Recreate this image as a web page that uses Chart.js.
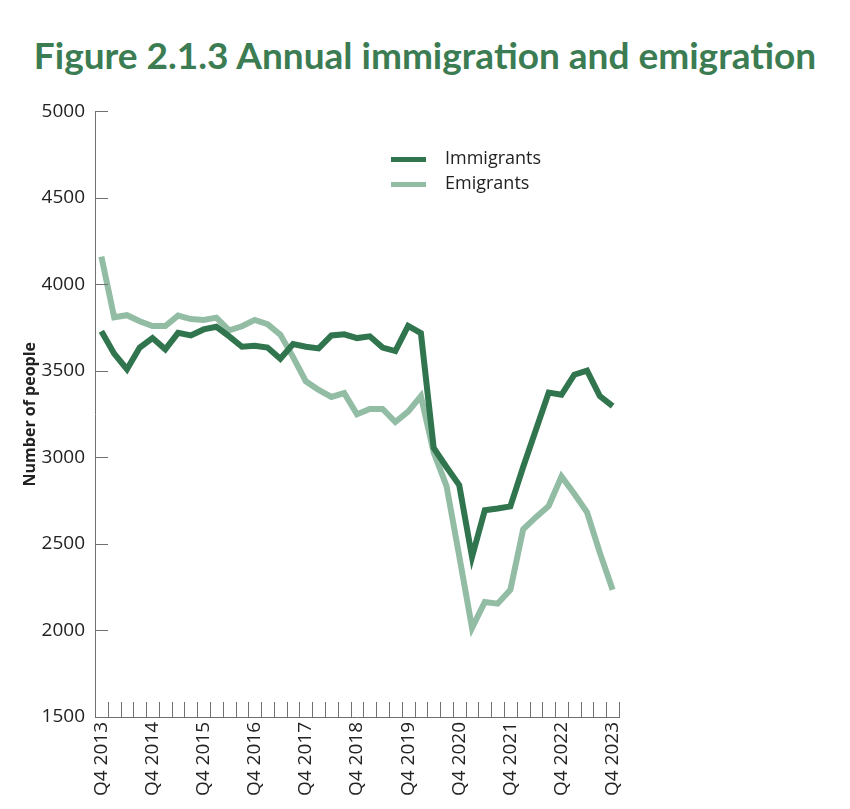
<!DOCTYPE html>
<html lang="en">
<head>
    <meta charset="UTF-8">
    <title>Figure 2.1.3</title>
    <style type="text/css">
        body { margin: 0; background: #fff; }
        .title {
            height: 90px;
            box-sizing: border-box;
            padding-top: 34px;
            text-align: center;
            font-family: Lato, "Open Sans", sans-serif;
            font-weight: bold;
            font-size: 37px;
            line-height: 42px;
            color: #3b7c53;
        }
        .chartBox {
            width: 850px;
            height: 719px;
        }
    </style>
</head>
<body>
    <div class="title">Figure 2.1.3 Annual immigration and emigration</div>
    <div class="chartBox">
        <canvas id="myChart"></canvas>
    </div>

    <script src="https://cdn.jsdelivr.net/npm/chart.js"></script>

    <script>
        const quarters = [
          'Q4 2013',
          'Q1 2014', 'Q2 2014', 'Q3 2014', 'Q4 2014',
          'Q1 2015', 'Q2 2015', 'Q3 2015', 'Q4 2015',
          'Q1 2016', 'Q2 2016', 'Q3 2016', 'Q4 2016',
          'Q1 2017', 'Q2 2017', 'Q3 2017', 'Q4 2017',
          'Q1 2018', 'Q2 2018', 'Q3 2018', 'Q4 2018',
          'Q1 2019', 'Q2 2019', 'Q3 2019', 'Q4 2019',
          'Q1 2020', 'Q2 2020', 'Q3 2020', 'Q4 2020',
          'Q1 2021', 'Q2 2021', 'Q3 2021', 'Q4 2021',
          'Q1 2022', 'Q2 2022', 'Q3 2022', 'Q4 2022',
          'Q1 2023', 'Q2 2023', 'Q3 2023', 'Q4 2023'
        ];

        const immigrants = [
          3730, 3600, 3510, 3635, 3690, 3625, 3720, 3705, 3740, 3755,
          3700, 3640, 3645, 3635, 3570, 3655, 3640, 3630, 3705, 3712,
          3690, 3700, 3635, 3615, 3760, 3718, 3055, 2945, 2840, 2425,
          2695, 2705, 2717, 2945, 3160, 3375, 3362, 3478, 3502, 3355,
          3297
        ];

        const emigrants = [
          4160, 3810, 3822, 3787, 3760, 3760, 3820, 3800, 3795, 3808,
          3735, 3758, 3795, 3770, 3710, 3580, 3440, 3390, 3350, 3372,
          3250, 3280, 3280, 3205, 3265, 3355, 3030, 2836, 2430, 2015,
          2165, 2155, 2235, 2585, 2655, 2720, 2890, 2790, 2683, 2450,
          2236
        ];

        const darkGreen = '#31754e';
        const lightGreen = '#92bda4';
        const axisGrey = '#707070';
        const textCol = '#222222';

        // short inward tick marks on both axes
        const tickMarks = {
          id: 'tickMarks',
          afterDraw(chart) {
            const {ctx, chartArea, scales: {x, y}} = chart;
            ctx.save();
            ctx.strokeStyle = axisGrey;
            ctx.lineWidth = 1;
            ctx.beginPath();
            y.ticks.forEach(t => {
              const py = Math.round(y.getPixelForValue(t.value)) + 0.5;
              ctx.moveTo(chartArea.left, py);
              ctx.lineTo(chartArea.left + 13, py);
            });
            for (let i = 0; i <= quarters.length; i++) {
              const px = Math.round(x.getPixelForValue(i - 0.5)) + 0.5;
              ctx.moveTo(px, chartArea.bottom);
              ctx.lineTo(px, chartArea.bottom - 15);
            }
            ctx.stroke();
            ctx.restore();
          }
        };

        // stacked legend inside the plot
        const innerLegend = {
          id: 'innerLegend',
          afterDraw(chart) {
            const {ctx, chartArea} = chart;
            ctx.save();
            ctx.font = '18px "Open Sans"';
            ctx.textBaseline = 'middle';
            chart.data.datasets.forEach((ds, i) => {
              const ly = chartArea.top + 48 + i * 25;
              ctx.strokeStyle = ds.borderColor;
              ctx.lineWidth = 5;
              ctx.beginPath();
              ctx.moveTo(chartArea.left + 296, ly);
              ctx.lineTo(chartArea.left + 331, ly);
              ctx.stroke();
              ctx.fillStyle = textCol;
              ctx.fillText(ds.label, chartArea.left + 350, ly - 1);
            });
            ctx.restore();
          }
        };

        const ctx = document.getElementById('myChart');
        new Chart(ctx, {
          type: 'line',
          data: {
            labels: quarters,
            datasets: [{
              label: 'Immigrants',
              data: immigrants,
              borderColor: darkGreen,
              borderWidth: 6,
              borderJoinStyle: 'miter',
              pointRadius: 0,
              tension: 0
            }, {
              label: 'Emigrants',
              data: emigrants,
              borderColor: lightGreen,
              borderWidth: 6,
              borderJoinStyle: 'miter',
              pointRadius: 0,
              tension: 0
            }]
          },
          options: {
            responsive: true,
            maintainAspectRatio: false,
            animation: false,
            layout: {
              padding: {top: 19, right: 231, bottom: 0, left: 0}
            },
            plugins: {
              legend: {display: false},
              tooltip: {enabled: false}
            },
            scales: {
              x: {
                type: 'category',
                offset: true,
                grid: {display: false, drawTicks: false},
                border: {display: true, color: axisGrey, width: 1},
                afterFit(scale) { scale.height = 92; },
                ticks: {
                  autoSkip: false,
                  maxRotation: 90,
                  minRotation: 90,
                  padding: 5,
                  color: textCol,
                  font: {family: 'Open Sans', size: 19},
                  callback(val, i) {
                    return quarters[i].startsWith('Q4') ? quarters[i] : '';
                  }
                }
              },
              y: {
                min: 1500,
                max: 5000,
                grid: {display: false, drawTicks: false},
                border: {display: true, color: axisGrey, width: 1},
                afterFit(scale) { scale.width = 95; },
                ticks: {
                  stepSize: 500,
                  padding: 10,
                  color: textCol,
                  font: {family: 'Open Sans', size: 19},
                  callback: v => String(v)
                },
                title: {
                  display: true,
                  text: 'Number of people',
                  color: textCol,
                  padding: {top: 21, bottom: 0},
                  font: {family: 'Open Sans', size: 16, weight: 'bold'}
                }
              }
            }
          },
          plugins: [tickMarks, innerLegend]
        });
    </script>
</body>
</html>
